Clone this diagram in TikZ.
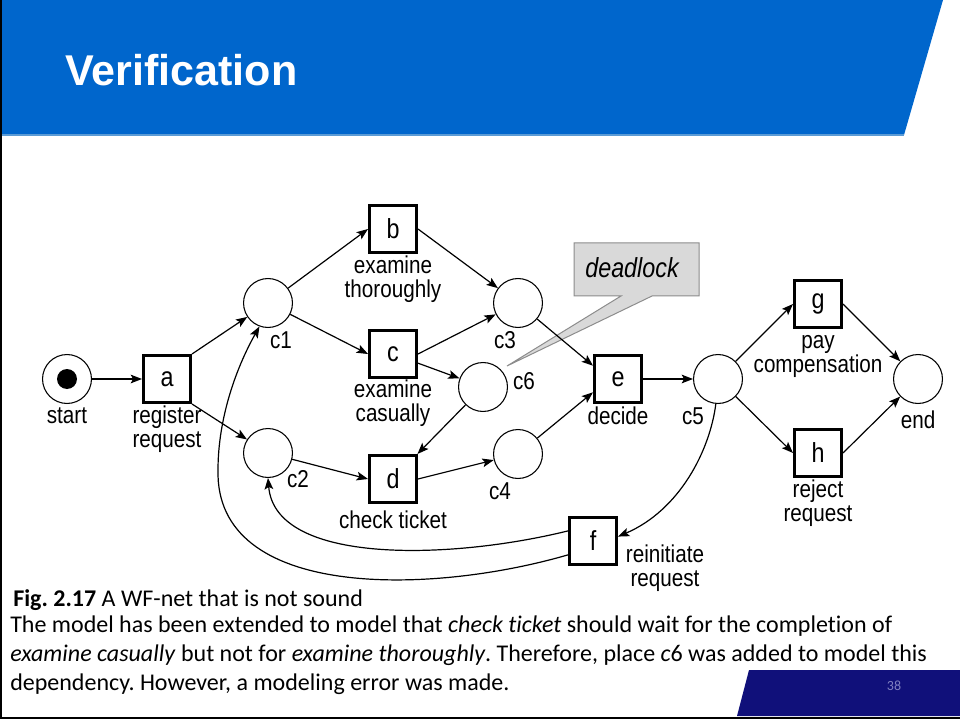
\documentclass[tikz,border=0pt]{standalone}
\usepackage{fontspec}
\setmainfont{Liberation Sans}
\newfontfamily\calibri[Ligatures=NoCommon]{Carlito}
\usetikzlibrary{arrows.meta,calc}
\definecolor{hdrblue}{HTML}{0066CC}
\definecolor{hdrline}{HTML}{5B9BD5}
\definecolor{navyband}{HTML}{10107A}
\definecolor{pgnum}{HTML}{8080C0}
\definecolor{callfill}{HTML}{D9D9D9}
\definecolor{callline}{HTML}{8C8C8C}
\newcommand{\vs}[1]{\scalebox{1}[1.18]{#1}}
\frenchspacing
\tikzset{
  place/.style={circle,draw,line width=0.8pt,minimum size=36.7pt,inner sep=0pt},
  trans/.style={rectangle,draw,line width=2pt,minimum size=35.5pt,inner sep=0pt,font=\fontsize{17.5}{17.5}\selectfont},
  lbl/.style={font=\fontsize{15.5}{18}\selectfont,align=center,inner sep=0pt,anchor=base},
  arc/.style={-{Stealth[length=8.5pt,width=6.5pt,inset=1.8pt]},line width=0.9pt},
  captxt/.style={font=\calibri\fontsize{18}{20}\selectfont,anchor=base west,inner sep=0pt}
}
\begin{document}
\begin{tikzpicture}[x=0.75pt,y=-0.75pt]
\useasboundingbox (0,0) rectangle (960,720);
\fill[white] (0,0) rectangle (960,720);
% header
\fill[hdrblue] (0,0) -- (943,0) -- (904,135) -- (0,135) -- cycle;
\draw[hdrline,line width=1pt] (0,135) -- (904,135);
\node[anchor=base west,inner sep=0pt,text=white,font=\fontsize{32.3}{33}\selectfont\bfseries] (title) at (65,86) {Verification};
% footer
\fill[navyband] (749,670) -- (960,670) -- (960,716) -- (737,716) -- cycle;
\node[font=\calibri\fontsize{10.5}{12}\selectfont,text=pgnum] (pgno) at (894,686) {38};
\draw[black,line width=1.5pt] (1,0) -- (1,718) -- (960,718);

% places
\node[place] (start) at (67,379) {};
\fill (start) circle (7.5pt);
\node[place] (c1) at (268,303) {};
\node[place] (c2) at (268,453) {};
\node[place] (c3) at (518,303) {};
\node[place] (c6) at (483,387) {};
\node[place] (c4) at (518,454) {};
\node[place] (c5) at (718,379) {};
\node[place] (end) at (918,379) {};
% transitions
\node[trans] (a) at (167,379) {\vs{a}};
\node[trans] (b) at (393,229) {\vs{b}};
\node[trans] (c) at (393,354) {\vs{c}};
\node[trans] (d) at (393,479) {\vs{d}};
\node[trans] (e) at (618,379) {\vs{e}};
\node[trans] (f) at (593,541) {\vs{f}};
\node[trans] (g) at (818,304) {\vs{g}};
\node[trans] (h) at (818,453) {\vs{h}};

% labels (multi-line: position is the baseline of the last line)
\node[lbl] (lstart) at (67,423) {\vs{start}};
\node[lbl] (la) at (167,447) {\vs{register}\\\vs{request}};
\node[lbl] (lc1) at (281,348) {\vs{c1}};
\node[lbl] (lc2) at (298,487) {\vs{c2}};
\node[lbl] (lb) at (393,297) {\vs{examine}\\\vs{thoroughly}};
\node[lbl] (lc) at (393,421) {\vs{examine}\\\vs{casually}};
\node[lbl] (ld) at (393,528) {\vs{check ticket}};
\node[lbl] (lc3) at (505,348) {\vs{c3}};
\node[lbl] (lc6) at (524,389) {\vs{c6}};
\node[lbl] (lc4) at (500,499) {\vs{c4}};
\node[lbl] (le) at (618,424) {\vs{decide}};
\node[lbl] (lc5) at (693,424) {\vs{c5}};
\node[lbl] (lg) at (818,372) {\vs{pay}\\\vs{compensation}};
\node[lbl] (lend) at (918,428) {\vs{end}};
\node[lbl] (lh) at (818,521) {\vs{reject}\\\vs{request}};
\node[lbl] (lf) at (665,586) {\vs{reinitiate}\\\vs{request}};

% callout
\filldraw[fill=callfill,draw=callline,line width=0.75pt]
  (574,243) -- (699,243) -- (699,296) -- (652,296) -- (507,366) -- (621,296) -- (574,296) -- cycle;
\node[font=\fontsize{17.5}{18}\selectfont\itshape,inner sep=0pt] (dl) at (632,268) {\vs{deadlock}};

% arcs
\draw[arc] (start) -- (a);
\draw[arc] (a.north east) -- (c1);
\draw[arc] (a.south east) -- (c2);
\draw[arc] (c1) -- (b.west);
\draw[arc] (c1) -- (c.west);
\draw[arc] (c2) -- (d.west);
\draw[arc] (b.east) -- (c3);
\draw[arc] (c.east) -- (c3);
\draw[arc] (c) -- (c6);
\draw[arc] (c6) -- (d);
\draw[arc] (d.east) -- (c4);
\draw[arc] (c3) -- (e.152);
\draw[arc] (c4) -- (e.208);
\draw[arc] (e) -- (c5);
\draw[arc] (c5) -- (g.west);
\draw[arc] (c5) -- (h.west);
\draw[arc] (g.east) -- (end);
\draw[arc] (h.east) -- (end);
\draw[arc] (c5.265) .. controls (710,450) and (680,510) .. (f.10);
\draw[arc] (f.158) .. controls (450,560) and (275,565) .. (c2.south);
\draw[arc] (f.209) .. controls (430,595) and (215,600) .. (218,470)
  .. controls (218,420) and (235,370) .. (c1.250);

% caption
\node[captxt] (cap1) at (13,606) {\textbf{Fig. 2.17} A WF-net that is not sound};
\node[captxt] (cap2) at (10,632) {The model has been extended to model that \textit{check ticket} should wait for the completion of};
\node[captxt] (cap3) at (10,661) {\textit{examine casually} but not for \textit{examine thoroughly}. Therefore, place \textit{c}6 was added to model this};
\node[captxt] (cap4) at (10,690) {dependency. However, a modeling error was made.};
\end{tikzpicture}
\end{document}
